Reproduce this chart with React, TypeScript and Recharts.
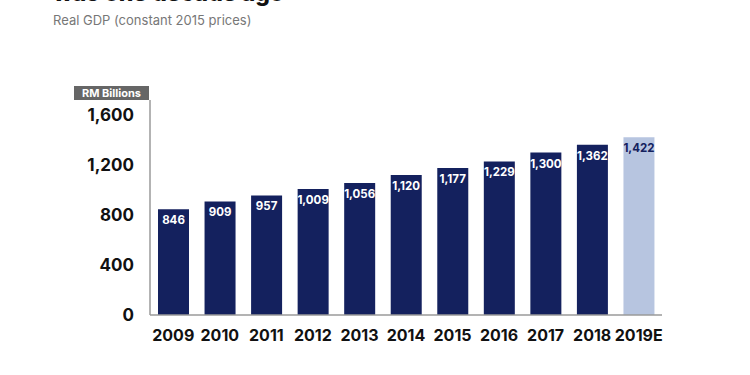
import { BarChart, Bar, XAxis, YAxis, Cell, LabelList } from 'recharts';

const years = ['2009', '2010', '2011', '2012', '2013', '2014', '2015', '2016', '2017', '2018', '2019E'];
const gdp = [846, 909, 957, 1009, 1056, 1120, 1177, 1229, 1300, 1362, 1422];
const estimate = [false, false, false, false, false, false, false, false, false, false, true];
const yTicks = [0, 400, 800, 1200, 1600];

const NAVY = '#14215e';
const LIGHT = '#b7c5e0';
const FONT = 'Inter, "Open Sans", sans-serif';

const data = years.map((year, i) => ({ year, value: gdp[i], est: estimate[i] }));

const fmt = (v: number) => v.toLocaleString('en-US');

const BarValue = (props: any) => {
  const { x, y, width, value, index } = props;
  const est = data[index]?.est;
  return (
    <text
      x={x + width / 2}
      y={y + 15}
      textAnchor="middle"
      fontSize={11.5}
      fontWeight={700}
      fontFamily={FONT}
      fill={est ? NAVY : '#ffffff'}
    >
      {fmt(value)}
    </text>
  );
};

export default function App() {
  return (
    <div style={{ position: 'absolute', left: 0, top: 0, width: 750, height: 375, overflow: 'hidden', background: '#fff', fontFamily: FONT }}>
      <div style={{ position: 'absolute', left: 53, top: -19, fontSize: 23, fontWeight: 800, color: '#111', lineHeight: '24px', whiteSpace: 'nowrap' }}>
        was one decade ago
      </div>
      <div style={{ position: 'absolute', left: 53, top: 11, fontSize: 13, color: '#777', lineHeight: '18px', whiteSpace: 'nowrap' }}>
        Real GDP (constant 2015 prices)
      </div>
      <div
        style={{
          position: 'absolute', left: 74, top: 86, width: 75, height: 14, background: '#666', color: '#fff',
          fontSize: 11, fontWeight: 700, lineHeight: '14px', textAlign: 'center',
        }}
      >
        RM Billions
      </div>
      <BarChart width={750} height={375} data={data} margin={{ top: 100, right: 88, left: 0, bottom: 30 }} barCategoryGap={8}>
        <XAxis
          dataKey="year"
          height={30}
          axisLine={{ stroke: '#9a9a9a', strokeWidth: 1.5 }}
          tickLine={false}
          interval={0}
          tick={{ fontSize: 16, fontWeight: 700, fill: '#111', fontFamily: FONT }}
          dy={7}
        />
        <YAxis
          width={150}
          domain={[0, 1720]}
          ticks={yTicks}
          tickFormatter={fmt}
          axisLine={{ stroke: '#9a9a9a', strokeWidth: 1.5 }}
          tickLine={false}
          tick={{ fontSize: 17, fontWeight: 700, fill: '#111', fontFamily: FONT }}
          tickMargin={10}
        />
        <Bar dataKey="value" isAnimationActive={false}>
          {data.map((d) => (
            <Cell key={d.year} fill={d.est ? LIGHT : NAVY} />
          ))}
          <LabelList dataKey="value" content={BarValue} />
        </Bar>
      </BarChart>
    </div>
  );
}
